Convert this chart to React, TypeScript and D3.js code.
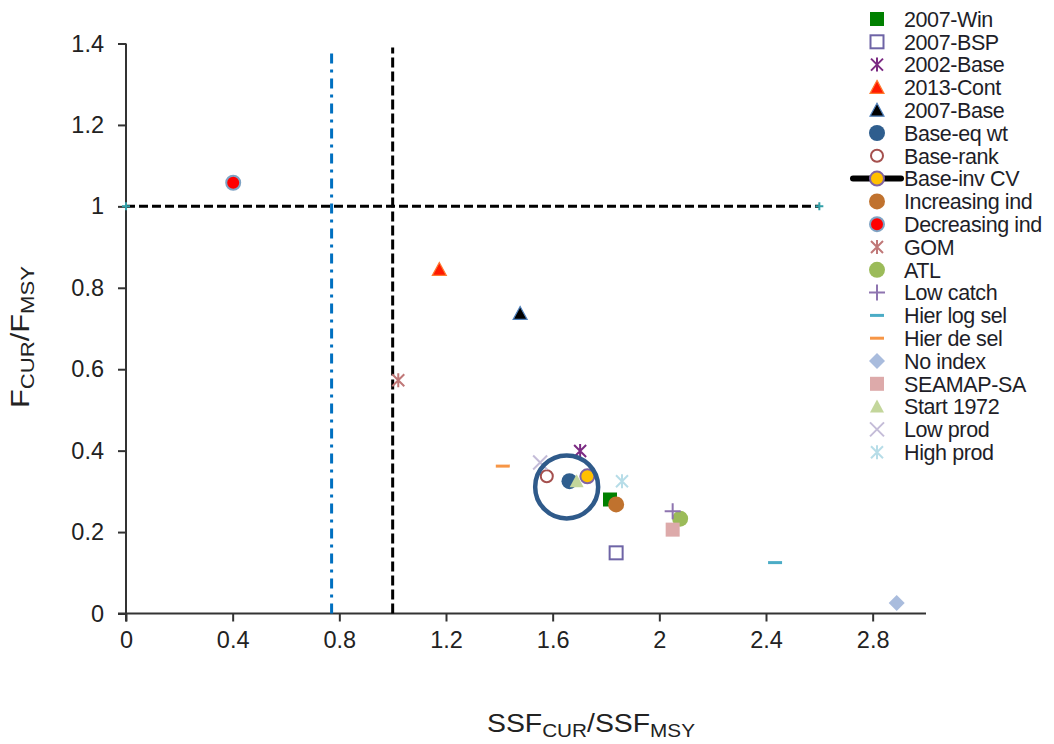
import React, { useEffect, useRef } from "react"
import * as d3 from "d3"

// runs shown in the chart, in legend order
const runNames = [
  "2007-Win", "2007-BSP", "2002-Base", "2013-Cont", "2007-Base",
  "Base-eq wt", "Base-rank", "Base-inv CV", "Increasing ind", "Decreasing ind",
  "GOM", "ATL", "Low catch", "Hier log sel", "Hier de sel",
  "No index", "SEAMAP-SA", "Start 1972", "Low prod", "High prod",
]
const ssfRatio = [
  1.815, 1.838, 1.703, 1.175, 1.478,
  1.663, 1.578, 1.73, 1.838, 0.402,
  1.021, 2.078, 2.05, 2.434, 1.413,
  2.89, 2.05, 1.69, 1.553, 1.86,
]
const fRatio = [
  0.28, 0.149, 0.399, 0.845, 0.737,
  0.325, 0.337, 0.337, 0.268, 1.058,
  0.573, 0.233, 0.251, 0.125, 0.362,
  0.026, 0.206, 0.325, 0.371, 0.325,
]

// reference lines
const fLimit = 1.0
const ssfLimit = 1.0
const msstLimit = 0.771
const fLineEndX = [0, 2.6]

// circled cluster
const clusterCenter = [1.6525, 0.311]

const xTicks = [0, 0.4, 0.8, 1.2, 1.6, 2, 2.4, 2.8]
const yTicks = [0, 0.2, 0.4, 0.6, 0.8, 1, 1.2, 1.4]

// marker styles per run (same order as runNames)
const shapes = [
  "square", "openSquare", "asterisk", "triangle", "triangle",
  "circle", "openCircle", "circle", "circle", "circle",
  "asterisk", "circle", "plus", "dash", "dash",
  "diamond", "square", "triangle", "cross", "asterisk",
]
const fills = [
  "#008000", "none", "#7b2a83", "#ff1a00", "#000000",
  "#2f5e8e", "none", "#ffc000", "#c0722e", "#ff0000",
  "#c07878", "#9bbb59", "#8e74b0", "#4bacc6", "#f79646",
  "#a9bcdd", "#ddaaaa", "#c3d69b", "#c4bcd8", "#b7dde8",
]
const outlines = [
  null, "#6e64a6", null, "#ff7a30", "#4f81bd",
  null, "#a5504e", "#8064a2", null, "#7fa3c4",
  null, null, null, null, null,
  null, null, null, null, null,
]

const FONT = "'Liberation Sans', Arial, sans-serif"

function drawMarker(g, shape, fill, outline) {
  if (shape === "square") {
    g.append("rect").attr("x", -7).attr("y", -7).attr("width", 14).attr("height", 14).attr("fill", fill)
  } else if (shape === "openSquare") {
    g.append("rect").attr("x", -6.5).attr("y", -6.5).attr("width", 13).attr("height", 13)
      .attr("fill", "none").attr("stroke", outline).attr("stroke-width", 2)
  } else if (shape === "circle") {
    g.append("circle").attr("r", outline ? 7 : 8).attr("fill", fill)
      .attr("stroke", outline || "none").attr("stroke-width", 2)
  } else if (shape === "openCircle") {
    g.append("circle").attr("r", 6).attr("fill", "none").attr("stroke", outline).attr("stroke-width", 2)
  } else if (shape === "triangle") {
    g.append("path").attr("d", "M0,-7L7,6L-7,6Z")
      .attr("fill", fill).attr("stroke", outline || "none").attr("stroke-width", 1.2)
  } else if (shape === "diamond") {
    g.append("path").attr("d", "M0,-8L8,0L0,8L-8,0Z").attr("fill", fill)
  } else if (shape === "asterisk") {
    g.append("path").attr("d", "M-6,-6L6,6M-6,6L6,-6M0,-7L0,7")
      .attr("stroke", fill).attr("stroke-width", 2).attr("fill", "none")
  } else if (shape === "cross") {
    g.append("path").attr("d", "M-7,-7L7,7M-7,7L7,-7")
      .attr("stroke", fill).attr("stroke-width", 2).attr("fill", "none")
  } else if (shape === "plus") {
    g.append("path").attr("d", "M-8,0L8,0M0,-8L0,8")
      .attr("stroke", fill).attr("stroke-width", 2).attr("fill", "none")
  } else if (shape === "dash") {
    g.append("path").attr("d", "M-7,0L7,0")
      .attr("stroke", fill).attr("stroke-width", 3).attr("fill", "none")
  }
}

export default function App() {
  const ref = useRef(null)

  useEffect(() => {
    const svg = d3.select(ref.current)
    svg.selectAll("*").remove()

    const x = d3.scaleLinear().domain([0, 3]).range([126, 926])
    const y = d3.scaleLinear().domain([0, 1.4]).range([613.5, 43.5])
    const fmt = (d) => String(+(+d).toFixed(1))

    // axes
    const xAxis = svg.append("g")
      .attr("transform", "translate(0," + y(0) + ")")
      .call(d3.axisBottom(x).tickValues(xTicks).tickSize(8).tickSizeOuter(0).tickPadding(10).tickFormat(fmt))
    const yAxis = svg.append("g")
      .attr("transform", "translate(" + x(0) + ",0)")
      .call(d3.axisLeft(y).tickValues(yTicks).tickSize(8).tickSizeOuter(0).tickPadding(14).tickFormat(fmt))
    for (const ax of [xAxis, yAxis]) {
      ax.select(".domain").remove()
      ax.selectAll("line").attr("stroke", "#333").attr("stroke-width", 2)
      ax.selectAll("text").attr("font-family", FONT).attr("font-size", 23.5).attr("fill", "#222")
    }
    svg.append("line").attr("x1", x(0) - 8).attr("x2", x(3)).attr("y1", y(0)).attr("y2", y(0))
      .attr("stroke", "#333").attr("stroke-width", 2)
    svg.append("line").attr("x1", x(0)).attr("x2", x(0)).attr("y1", y(1.4)).attr("y2", y(0) + 8)
      .attr("stroke", "#333").attr("stroke-width", 2)

    // reference lines
    svg.append("line").attr("x1", x(msstLimit)).attr("x2", x(msstLimit))
      .attr("y1", y(0)).attr("y2", y(1.38))
      .attr("stroke", "#0070c0").attr("stroke-width", 3).attr("stroke-dasharray", "10,6,3,6")
    svg.append("line").attr("x1", x(ssfLimit)).attr("x2", x(ssfLimit))
      .attr("y1", y(0)).attr("y2", y(1.39))
      .attr("stroke", "#000").attr("stroke-width", 3).attr("stroke-dasharray", "10,4")
    svg.append("line").attr("x1", x(fLineEndX[0])).attr("x2", x(fLineEndX[1]))
      .attr("y1", y(fLimit)).attr("y2", y(fLimit))
      .attr("stroke", "#000").attr("stroke-width", 3).attr("stroke-dasharray", "9,4")
    svg.append("g").selectAll("path").data(fLineEndX).enter().append("path")
      .attr("transform", (d) => "translate(" + x(d) + "," + y(fLimit) + ")")
      .attr("d", "M-4,0L4,0M0,-4L0,4").attr("stroke", "#31a0a8").attr("stroke-width", 2)

    // points
    const pts = svg.append("g")
    runNames.forEach((name, i) => {
      const g = pts.append("g").attr("transform", "translate(" + x(ssfRatio[i]) + "," + y(fRatio[i]) + ")")
      drawMarker(g, shapes[i], fills[i], outlines[i])
    })

    // cluster highlight circle
    svg.append("circle").attr("cx", x(clusterCenter[0])).attr("cy", y(clusterCenter[1])).attr("r", 31.5)
      .attr("fill", "none").attr("stroke", "#2f5a8a").attr("stroke-width", 4.5)

    // legend
    const legend = svg.append("g")
    runNames.forEach((name, i) => {
      const cy = 19 + i * 22.8
      if (name === "Base-inv CV") {
        legend.append("line").attr("x1", 853).attr("x2", 901).attr("y1", cy).attr("y2", cy)
          .attr("stroke", "#000").attr("stroke-width", 6).attr("stroke-linecap", "round")
      }
      const g = legend.append("g").attr("transform", "translate(877," + cy + ")")
      drawMarker(g, shapes[i], fills[i], outlines[i])
      legend.append("text").attr("x", 904).attr("y", cy).attr("dy", "0.36em")
        .attr("font-family", FONT).attr("font-size", 21.5).attr("fill", "#1e1e28")
        .attr("letter-spacing", -0.4).text(name)
    })

    // axis titles
    const xt = svg.append("text").attr("x", 591).attr("y", 732).attr("text-anchor", "middle")
      .attr("font-family", FONT).attr("font-size", 26).attr("fill", "#222")
      .attr("textLength", 208).attr("lengthAdjust", "spacingAndGlyphs")
    xt.append("tspan").text("SSF")
    xt.append("tspan").attr("font-size", 19).attr("dy", 5).text("CUR")
    xt.append("tspan").attr("dy", -5).text("/SSF")
    xt.append("tspan").attr("font-size", 19).attr("dy", 5).text("MSY")

    const yt = svg.append("text").attr("transform", "translate(29,337) rotate(-90)").attr("text-anchor", "middle")
      .attr("font-family", FONT).attr("font-size", 25).attr("fill", "#222")
      .attr("textLength", 142).attr("lengthAdjust", "spacingAndGlyphs")
    yt.append("tspan").text("F")
    yt.append("tspan").attr("font-size", 18).attr("dy", 5).text("CUR")
    yt.append("tspan").attr("dy", -5).text("/F")
    yt.append("tspan").attr("font-size", 18).attr("dy", 5).text("MSY")
  }, [])

  return <svg ref={ref} width={1054} height={744} style={{ position: "absolute", left: 0, top: 0 }} />
}
